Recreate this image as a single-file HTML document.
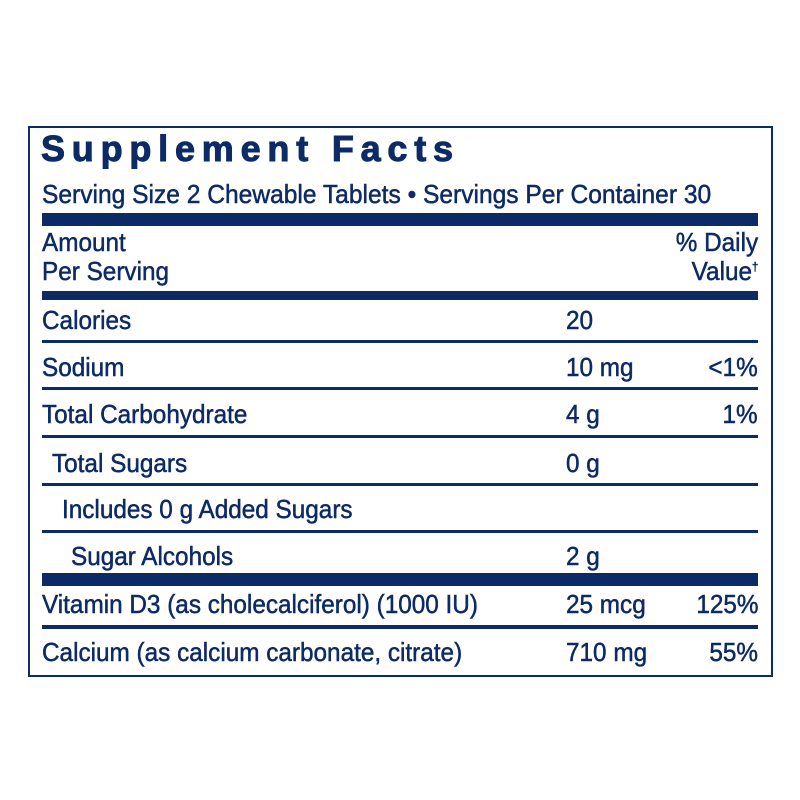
<!DOCTYPE html>
<html><head><style>
body{margin:0;width:800px;height:800px;background:#fff;position:relative;font-family:"Liberation Sans",sans-serif;color:#0c2a66;overflow:hidden}
.box{position:absolute;left:28px;top:126px;width:741px;height:547px;border:2px solid #0c2a66}
.t{position:absolute;white-space:nowrap;font-size:26px;line-height:26px;transform:scaleX(0.935);transform-origin:left center;-webkit-text-stroke:0.5px #0c2a66}
.r{text-align:right;transform-origin:right center}
.bar{position:absolute;left:42px;width:716px;background:#0c2a66}
</style></head><body>
<div class="box"></div>
<div class="t" style="left:41px;top:131px;font-weight:bold;font-size:36px;line-height:36px;letter-spacing:6.8px;transform:none;-webkit-text-stroke:1px #0c2a66">Supplement Facts</div>
<div class="t" style="left:42px;top:181px;transform:scaleX(0.945)">Serving Size 2 Chewable Tablets • Servings Per Container 30</div>
<div class="bar" style="top:213px;height:13px"></div>
<div class="t" style="left:42px;top:229px">Amount</div>
<div class="t" style="left:42px;top:258px">Per Serving</div>
<div class="t r" style="right:42px;top:229px">% Daily</div>
<div class="t r" style="right:42px;top:258px">Value<sup style="font-size:12px;line-height:0">†</sup></div>
<div class="bar" style="top:291px;height:9px"></div>

<div class="t" style="left:42px;top:307px">Calories</div>
<div class="t" style="left:566px;top:307px">20</div>
<div class="bar" style="top:340px;height:3px"></div>

<div class="t" style="left:42px;top:354px">Sodium</div>
<div class="t" style="left:566px;top:354px">10 mg</div>
<div class="t r" style="right:42px;top:354px">&lt;1%</div>
<div class="bar" style="top:387px;height:3px"></div>

<div class="t" style="left:42px;top:401px">Total Carbohydrate</div>
<div class="t" style="left:566px;top:401px">4 g</div>
<div class="t r" style="right:42px;top:401px">1%</div>
<div class="bar" style="top:435px;height:3px"></div>

<div class="t" style="left:52px;top:450px">Total Sugars</div>
<div class="t" style="left:566px;top:450px">0 g</div>
<div class="bar" style="top:483px;height:3px"></div>

<div class="t" style="left:62px;top:496px">Includes 0 g Added Sugars</div>
<div class="bar" style="top:530px;height:3px"></div>

<div class="t" style="left:71px;top:543px">Sugar Alcohols</div>
<div class="t" style="left:566px;top:543px">2 g</div>
<div class="bar" style="top:573px;height:13px"></div>

<div class="t" style="left:42px;top:591px">Vitamin D3 (as cholecalciferol) (1000 IU)</div>
<div class="t" style="left:566px;top:591px">25 mcg</div>
<div class="t r" style="right:42px;top:591px">125%</div>
<div class="bar" style="top:625px;height:4px"></div>

<div class="t" style="left:42px;top:639px">Calcium (as calcium carbonate, citrate)</div>
<div class="t" style="left:566px;top:639px">710 mg</div>
<div class="t r" style="right:42px;top:639px">55%</div>
</body></html>
